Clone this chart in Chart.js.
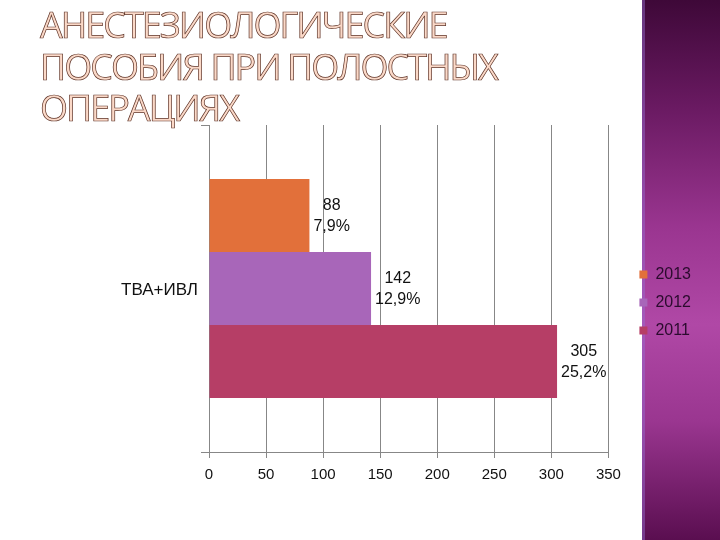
<!DOCTYPE html>
<html>
<head>
<meta charset="utf-8">
<script src="https://cdn.jsdelivr.net/npm/chart.js@4/dist/chart.umd.min.js"></script>
<style>
  html, body { margin: 0; padding: 0; background: #ffffff; }
  #wrap { position: relative; width: 720px; height: 540px; overflow: hidden; background: #ffffff; }
  #panel {
    position: absolute; left: 642px; top: 0; width: 78px; height: 540px;
    background: linear-gradient(to bottom, #3e0838 0%, #6a1a62 20%, #9a3590 42%, #b048a6 60%, #9a3690 78%, #5a0e50 100%);
    box-shadow: inset 3px 0 0 rgba(150, 110, 210, 0.45);
  }
  #chartBox { position: absolute; left: 0; top: 0; width: 720px; height: 540px; }
  #title {
    position: absolute; left: 40px; top: 4px; margin: 0;
    font-family: "Open Sans", sans-serif; font-weight: 400; font-size: 36px; line-height: 41.5px;
    letter-spacing: -2px;
    color: #fbd9c8;
    -webkit-text-stroke: 0.7px #5e3428;
    white-space: nowrap;
  }
</style>
</head>
<body>
<div id="wrap">
  <div id="panel"></div>
  <div id="chartBox"><canvas id="c" width="720" height="540"></canvas></div>
  <div id="title">АНЕСТЕЗИОЛОГИЧЕСКИЕ<br>ПОСОБИЯ ПРИ ПОЛОСТНЫХ<br>ОПЕРАЦИЯХ</div>
</div>
<script>
// ---- data ----
const categories = ['ТВА+ИВЛ'];
const seriesNames = ['2013', '2012', '2011'];
const values2013 = [88];
const values2012 = [142];
const values2011 = [305];
const shares2013 = ['7,9%'];
const shares2012 = ['12,9%'];
const shares2011 = ['25,2%'];
const xMin = 0, xMax = 350, xStep = 50;

const colors = ['#E2703A', '#A866B9', '#B63E66'];

const barLabels = {
  id: 'barLabels',
  afterDatasetsDraw(chart) {
    const ctx = chart.ctx;
    ctx.save();
    ctx.font = '16px "Liberation Sans", Arial, sans-serif';
    ctx.fillStyle = '#111111';
    ctx.textAlign = 'center';
    ctx.textBaseline = 'middle';
    chart.data.datasets.forEach((ds, di) => {
      const meta = chart.getDatasetMeta(di);
      meta.data.forEach((bar, i) => {
        const lines = [String(ds.data[i]), ds.shares[i]];
        const w = Math.max(...lines.map(l => ctx.measureText(l).width));
        const cx = bar.x + 4 + w / 2;
        lines.forEach((l, k) => ctx.fillText(l, cx, bar.y + 1 + (k - 0.5) * 21));
      });
    });
    ctx.restore();
  }
};

const legendShift = {
  id: 'legendShift',
  afterLayout(chart) {
    const lg = chart.legend;
    if (!lg) return;
    const dx = 19, dy = -6;
    lg.left += dx; lg.right += dx;
    lg.top += dy; lg.bottom += dy;
  }
};

new Chart(document.getElementById('c'), {
  type: 'bar',
  data: {
    labels: categories,
    datasets: [
      { label: seriesNames[0], data: values2013, shares: shares2013, backgroundColor: colors[0] },
      { label: seriesNames[1], data: values2012, shares: shares2012, backgroundColor: colors[1] },
      { label: seriesNames[2], data: values2011, shares: shares2011, backgroundColor: colors[2] }
    ]
  },
  options: {
    indexAxis: 'y',
    responsive: false,
    animation: false,
    devicePixelRatio: 1,
    categoryPercentage: 0.67,
    barPercentage: 1.0,
    layout: { padding: { top: 125, bottom: 48, left: 0, right: 38 } },
    scales: {
      x: {
        min: xMin, max: xMax,
        ticks: { stepSize: xStep, color: '#111111', padding: 8,
                 font: { family: '"Liberation Sans", Arial, sans-serif', size: 15 } },
        grid: { color: '#878787', lineWidth: 1, tickLength: 6 },
        border: { color: '#878787', width: 1 }
      },
      y: {
        afterFit(scale) { scale.width = 209; },
        ticks: { color: '#111111', padding: 3, labelOffset: 2,
                 font: { family: '"Liberation Sans", Arial, sans-serif', size: 17 } },
        grid: { drawOnChartArea: false, color: '#878787', tickLength: 8 },
        border: { color: '#878787', width: 1 }
      }
    },
    plugins: {
      legend: {
        position: 'right',
        labels: {
          boxWidth: 8, boxHeight: 8, padding: 12,
          color: '#2b0b2e',
          font: { family: '"Liberation Sans", Arial, sans-serif', size: 16 }
        }
      },
      tooltip: { enabled: false }
    }
  },
  plugins: [barLabels, legendShift]
});
</script>
</body>
</html>
